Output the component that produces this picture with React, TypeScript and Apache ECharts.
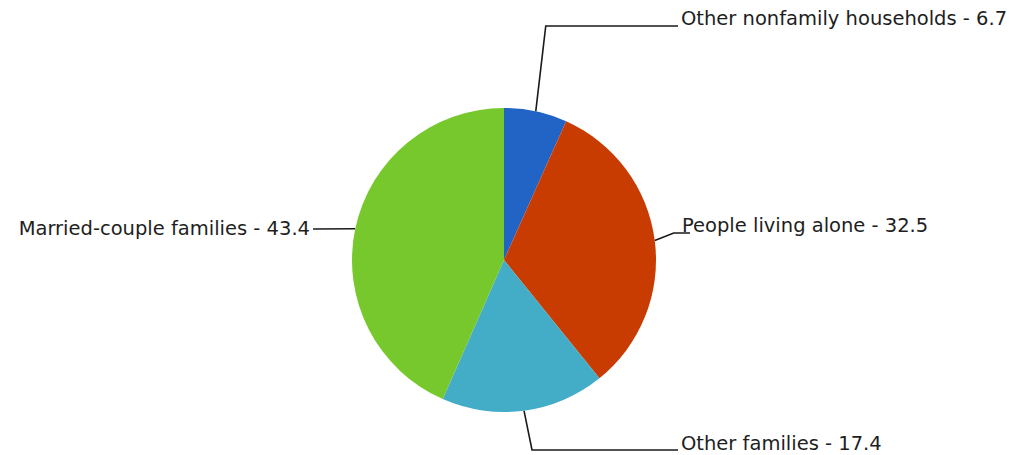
import React, { useEffect, useRef } from "react";
import * as echarts from "echarts";

// ---- data ----
const categories = [
  "Other nonfamily households",
  "People living alone",
  "Other families",
  "Married-couple families",
];
const values = [6.7, 32.5, 17.4, 43.4];
const sliceColors = ["#2263c6", "#c83c02", "#43adc7", "#77c82c"];

// ---- label placement (layout only) ----
type Guide = {
  textX: number;
  textY: number;
  align: "left" | "right";
  bend: [number, number] | null; // [dx from anchor, absolute y]
  end: [number, number];
};
const guides: Guide[] = [
  { textX: 681, textY: 18, align: "left", bend: [10, 26], end: [678, 26] },
  { textX: 682, textY: 225, align: "left", bend: [19, 233], end: [690, 233] },
  { textX: 681, textY: 443, align: "left", bend: [8, 450], end: [678, 450] },
  { textX: 310, textY: 228, align: "right", bend: null, end: [313, 229] },
];

export default function App() {
  const ref = useRef<HTMLDivElement>(null);

  useEffect(() => {
    if (!ref.current) return;
    const chart = echarts.init(ref.current, undefined, { renderer: "svg" });
    chart.setOption({
      animation: false,
      backgroundColor: "#ffffff",
      series: [
        {
          type: "pie",
          center: [504, 260],
          radius: 152,
          startAngle: 90,
          clockwise: true,
          avoidLabelOverlap: false,
          data: categories.map((name, i) => ({
            name,
            value: values[i],
            itemStyle: { color: sliceColors[i] },
          })),
          itemStyle: { borderWidth: 0 },
          label: {
            show: true,
            position: "outside",
            formatter: "{b} - {c}",
            fontFamily: "DejaVu Sans",
            fontSize: 19.5,
            color: "#1e1e1e",
          },
          labelLine: {
            show: true,
            lineStyle: { color: "#1a1a1a", width: 1.6 },
          },
          labelLayout: (params: any) => {
            const g = guides[params.dataIndex];
            const p0 = params.labelLinePoints
              ? params.labelLinePoints[0]
              : [0, 0];
            const pts: number[][] = [[p0[0], p0[1]]];
            if (g.bend) pts.push([p0[0] + g.bend[0], g.bend[1]]);
            pts.push(g.end);
            return {
              x: g.textX,
              y: g.textY,
              align: g.align,
              verticalAlign: "middle",
              labelLinePoints: pts,
            };
          },
          emphasis: { disabled: true },
        },
      ],
    });
    return () => chart.dispose();
  }, []);

  return (
    <div
      ref={ref}
      style={{ position: "fixed", left: 0, top: 0, width: 1010, height: 455 }}
    />
  );
}
